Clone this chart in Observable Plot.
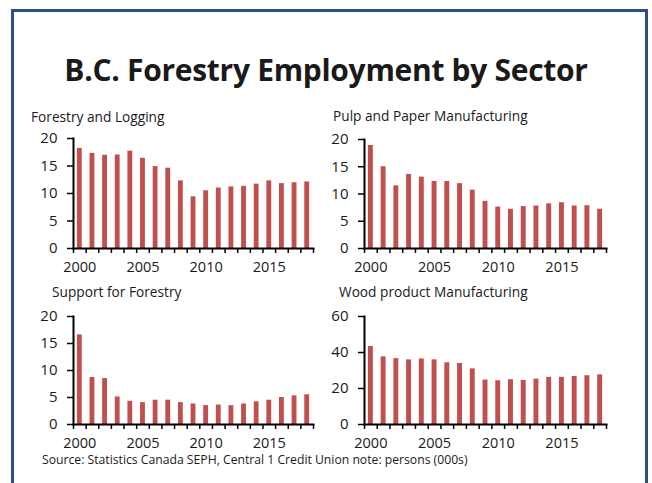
<!DOCTYPE html>
<html>
<head>
<meta charset="utf-8">
<script src="https://cdn.jsdelivr.net/npm/d3@7"></script>
<script src="https://cdn.jsdelivr.net/npm/@observablehq/plot@0.6"></script>
<style>
  html, body { margin: 0; padding: 0; background: #fff; }
  #wrap { position: relative; width: 652px; height: 483px; overflow: hidden; font-family: "Open Sans", sans-serif; color: #1a1a1a; }
  #frame { position: absolute; left: 11px; top: 9px; width: 631px; height: 500px; border: 3px solid #2E4D8C; border-bottom: none; }
  #title { position: absolute; left: 0; width: 652px; top: 49px; text-align: center; font-weight: 700; font-size: 30px; letter-spacing: -0.3px; color: #1a1a1a; }
  .ptitle { position: absolute; font-size: 13.7px; color: #1a1a1a; white-space: nowrap; }
  .panel { position: absolute; }
  #source { position: absolute; left: 42px; top: 451px; font-size: 12.2px; color: #1a1a1a; white-space: nowrap; }
</style>
</head>
<body>
<div id="wrap">
  <div id="frame"></div>
  <div id="title">B.C. Forestry Employment by Sector</div>
  <div id="source">Source: Statistics Canada SEPH, Central 1 Credit Union note: persons (000s)</div>
</div>
<script>
const years = [2000,2001,2002,2003,2004,2005,2006,2007,2008,2009,2010,2011,2012,2013,2014,2015,2016,2017,2018];
const labelYears = [2000, 2005, 2010, 2015];

const forestryLogging = [18.2,17.3,16.95,17.0,17.7,16.4,14.9,14.6,12.3,9.4,10.5,11.0,11.2,11.3,11.7,12.3,11.8,11.95,12.1];
const pulpPaper = [18.9,15.0,11.5,13.6,13.1,12.3,12.3,11.9,10.7,8.65,7.6,7.2,7.7,7.8,8.2,8.4,7.8,7.85,7.2];
const supportForestry = [16.6,8.7,8.5,5.1,4.3,4.05,4.5,4.5,4.05,3.8,3.5,3.6,3.5,3.8,4.2,4.5,5.0,5.3,5.5];
const woodProduct = [43.3,37.6,36.6,35.9,36.4,35.9,34.3,33.9,30.9,24.7,24.3,24.9,24.5,25.2,26.2,26.2,26.7,27.1,27.6];

const panelTitles = ["Forestry and Logging", "Pulp and Paper Manufacturing", "Support for Forestry", "Wood product Manufacturing"];
const yTicksSmall = [0, 5, 10, 15, 20];
const yTicksWood = [0, 20, 40, 60];

const barColor = "#C0504D";
const wrap = document.getElementById("wrap");

function panel(values, yTicks, title, box, titlePos) {
  const data = years.map((yr, i) => ({year: yr, value: values[i]}));
  const boundaries = years.map(y => y - 0.5).concat([years[years.length - 1] + 0.5]);
  const chart = Plot.plot({
    width: box.w,
    height: box.h,
    marginLeft: box.ml,
    marginRight: box.mr,
    marginTop: box.mt,
    marginBottom: box.mb,
    style: {fontFamily: "Open Sans, sans-serif", fontSize: "14px", color: "#1a1a1a", background: "transparent"},
    x: {domain: [boundaries[0], boundaries[boundaries.length - 1]], axis: null},
    y: {domain: [yTicks[0], yTicks[yTicks.length - 1]], axis: null},
    marks: [
      Plot.rectY(data, {x1: d => d.year - 0.5, x2: d => d.year + 0.5, y: "value", fill: barColor, insetLeft: 3.9, insetRight: 3.9}),
      Plot.axisY({ticks: yTicks, tickSize: 6, tickPadding: 10, tickFormat: d => String(d), label: null, stroke: "#000", strokeWidth: 1.5, fontSize: 15}),
      Plot.axisX({ticks: boundaries, tickSize: 5, tickFormat: () => "", label: null, stroke: "#000", strokeWidth: 1.5}),
      Plot.axisX({ticks: labelYears, tickSize: 0, tickPadding: 13, tickFormat: d => String(d), label: null, fontSize: 14.5}),
      Plot.frame({anchor: "left", stroke: "#000", strokeWidth: 2}),
      Plot.frame({anchor: "bottom", stroke: "#000", strokeWidth: 2})
    ]
  });
  chart.classList.add("panel");
  chart.style.left = box.left + "px";
  chart.style.top = box.top + "px";
  wrap.appendChild(chart);

  const t = document.createElement("div");
  t.className = "ptitle";
  t.textContent = title;
  t.style.left = titlePos[0] + "px";
  t.style.top = titlePos[1] + "px";
  wrap.appendChild(t);
}

// plot areas: P1 x 73-313, y 138-248; P2 x 364-606, y 139-248; P3 x 73-313, y 316-424; P4 x 364-606, y 316-424
panel(forestryLogging, yTicksSmall, panelTitles[0], {left: 20, top: 125, w: 300, h: 155, ml: 53, mr: 7, mt: 13, mb: 32}, [31, 107]);
panel(pulpPaper, yTicksSmall, panelTitles[1], {left: 320, top: 126, w: 295, h: 154, ml: 44, mr: 9, mt: 13, mb: 32}, [333, 106]);
panel(supportForestry, yTicksSmall, panelTitles[2], {left: 20, top: 303, w: 300, h: 153, ml: 53, mr: 7, mt: 13, mb: 32}, [52, 282]);
panel(woodProduct, yTicksWood, panelTitles[3], {left: 320, top: 303, w: 295, h: 153, ml: 44, mr: 9, mt: 13, mb: 32}, [339, 282]);
</script>
</body>
</html>
